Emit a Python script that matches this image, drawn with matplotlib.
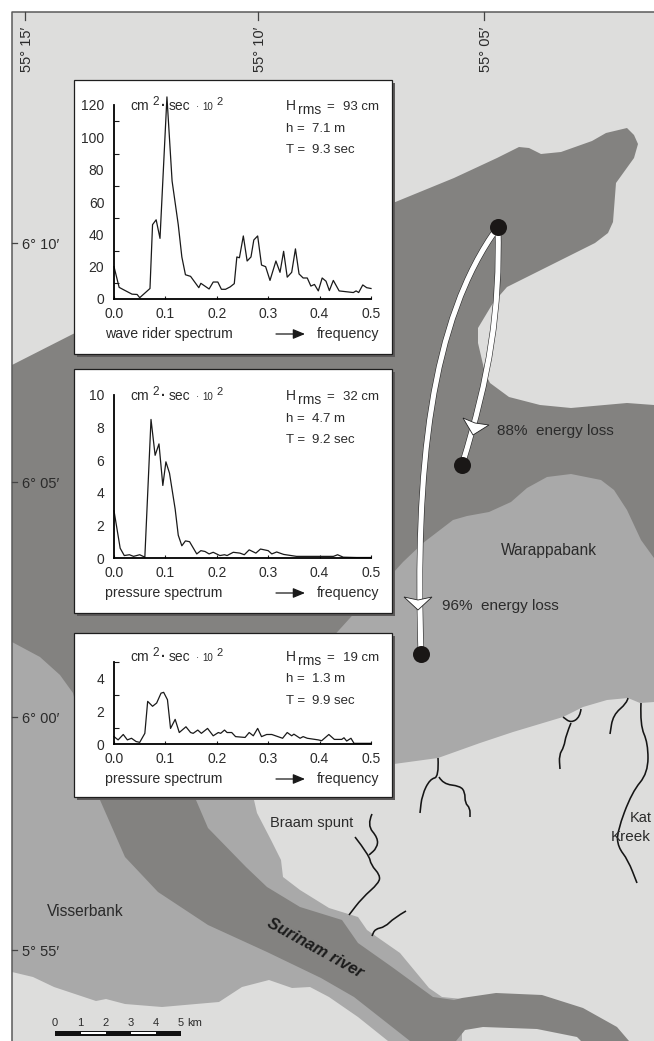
import matplotlib
matplotlib.use("Agg")
import matplotlib.pyplot as plt
from matplotlib.patches import Polygon, Rectangle, PathPatch
from matplotlib.path import Path

plt.rcParams['font.family'] = ['Liberation Sans', 'DejaVu Sans']

W, H = 654, 1041

# spectra
f1 = [0, .01, .02, .035, .045, .05, .07, .075, .082, .0895, .103, .113, .125, .132, .139, .149, .165, .169, .185, .193,
      .202, .209, .217, .226, .234, .239, .244, .2516, .259, .2665, .272, .2795, .287, .295, .3035, .315, .323, .33, .337,
      .3457, .353, .36, .368, .376, .383, .39, .3975, .405, .4125, .419, .4267, .438, .4656, .471, .476, .484, .4916, .5]
v1 = [20, 7.2, 5.5, 3, 2.8, .8, 6.5, 46, 49, 37.5, 125, 73, 46, 26, 15, 14, 7, 9.7, 6.2, 10.5,
      10.5, 6, 6, 7.5, 9.5, 26, 25.5, 39, 23.5, 26, 36.5, 39, 21, 20, 11.5, 23.5, 16.5, 29.5, 13.5,
      16.5, 31, 15.5, 13, 13, 8, 9, 5, 13, 11, 5.2, 11.5, 5, 4, 5, 4, 8.7, 7, 6.5]

f2 = [0, .012, .02, .03, .038, .05, .06, .072, .08, .0875, .095, .101, .108, .119, .125, .132, .139, .147, .161, .169,
      .177, .185, .193, .206, .215, .22, .232, .245, .2535, .263, .276, .285, .3, .307, .3165, .33, .355, .3975, .427,
      .435, .446, .472, .5]
v2 = [2.9, .6, .15, .2, .1, .2, .05, 8.5, 6.3, 7, 4.45, 5.9, 5.2, 3, 1.4, .75, 1.05, 1, .25, .45,
      .4, .25, .35, .15, .2, .15, .35, .3, .2, .5, .3, .55, .45, .25, .37, .22, .1, .1, .1,
      .2, .05, .03, .03]

f3 = [0, .008, .018, .026, .034, .043, .05, .06, .0655, .075, .083, .0915, .0966, .104, .11, .119, .127, .14, .149, .154,
      .163, .17, .182, .193, .203, .2075, .215, .22, .229, .2365, .255, .263, .271, .2795, .287, .297, .307, .328, .337,
      .3457, .35, .362, .368, .376, .3975, .404, .418, .4287, .443, .4475, .4527, .461, .467, .5]
v3 = [.45, .25, .58, .25, .35, .15, .1, .65, 2.6, 2.3, 2.5, 3.1, 3.15, 2.7, .95, 1.5, .7, 1.05, .7, .65,
      .85, .65, .95, .5, .7, .65, .85, .7, .7, .45, .4, .7, .5, .95, .45, .58, .58, .35, .7,
      .5, .6, .35, .45, .35, .25, .2, .58, .28, .28, .38, .18, .35, .04, .04]

x_ticks = [0.0, 0.1, 0.2, 0.3, 0.4, 0.5]
heights = ['93 cm', '32 cm', '19 cm']
depths = ['7.1 m', '4.7 m', '1.3 m']
periods = ['9.3 sec', '9.2 sec', '9.9 sec']
captions = ['wave rider spectrum', 'pressure spectrum', 'pressure spectrum']

# map outlines, picture pixels
mid_shape = [(12, 440), (654, 440), (654, 702), (640, 703), (628, 698), (607, 700), (583, 707), (563, 717), (513, 732),
             (480, 743), (438, 758), (394, 764), (300, 780), (252, 795), (254, 800), (257, 813), (271, 840), (281, 860),
             (283, 877), (300, 890), (329, 908), (358, 917), (367, 930), (400, 953), (429, 988), (442, 997), (462, 999),
             (462, 1041), (388, 1041), (358, 1017), (329, 997), (310, 987), (292, 988), (269, 980), (242, 987), (219, 1002),
             (196, 1004), (162, 1007), (125, 1004), (106, 999), (96, 1001), (54, 987), (33, 977), (12, 972)]
dark_shape = [(12, 365), (73, 334), (454, 178), (497, 158), (519, 147), (529, 148), (541, 154), (561, 152), (592, 141),
              (606, 133), (627, 128), (634, 135), (638, 144), (634, 158), (616, 183), (613, 222), (608, 233), (595, 243),
              (507, 287), (493, 303), (478, 328), (478, 343), (485, 373), (490, 383), (509, 397), (540, 405), (571, 408),
              (627, 403), (654, 405), (654, 558), (641, 540), (627, 510), (614, 490), (601, 480), (571, 474), (547, 477),
              (527, 488), (511, 502), (489, 512), (467, 516), (453, 520), (423, 543), (403, 562), (393, 573), (360, 607),
              (330, 640), (200, 760), (196, 800), (208, 828), (246, 867), (267, 887), (300, 907), (342, 920), (358, 943),
              (392, 967), (433, 997), (454, 1000), (462, 998), (496, 993), (542, 995), (583, 1008), (617, 1027), (629, 1041),
              (581, 1041), (577, 1037), (537, 1029), (483, 1027), (465, 1030), (456, 1041), (410, 1041), (354, 997),
              (321, 978), (267, 952), (208, 925), (158, 892), (125, 857), (100, 800), (85, 740), (73, 693), (60, 675),
              (40, 657), (12, 642)]
creeks = [
    [(372, 814), (367, 825), (378, 838), (377, 848), (369, 855)],
    [(355, 837), (369, 855), (371, 865), (380, 875), (379, 883), (362, 898), (349, 915)],
    [(406, 911), (394, 918), (385, 927), (375, 929), (372, 936)],
    [(438, 758), (439, 777), (430, 779), (422, 795), (420, 813)],
    [(439, 777), (443, 784), (460, 786), (465, 792), (465, 803), (470, 808), (470, 817)],
    [(581, 709), (580, 717), (571, 723), (563, 717)],
    [(571, 723), (566, 735), (564, 747), (559, 755), (560, 769)],
    [(628, 698), (627, 703), (613, 715), (610, 734)],
    [(641, 703), (640, 725), (648, 743), (648, 773), (632, 792), (617, 832), (618, 847), (628, 860), (637, 883)],
]
# start, two control points, end
route_a = [(498, 227), (500, 310), (490, 375), (462, 465)]
route_b = [(498, 227), (430, 320), (415, 470), (421, 654)]

fig = plt.figure(figsize=(W / 100, H / 100), dpi=100, facecolor='white')
ax = fig.add_axes([0, 0, 1, 1])
ax.set_xlim(0, W)
ax.set_ylim(H, 0)
ax.axis('off')

TXT = '#2b2b2b'
ax.add_patch(Rectangle((12, 12), W - 12, H - 12, fc='#dddddc', ec='none', zorder=0))
ax.add_patch(Polygon(mid_shape, fc='#a9a9a9', ec='none', zorder=1))
ax.add_patch(Polygon(dark_shape, fc='#838280', ec='none', zorder=2))
ax.plot([12, 12, W], [H, 12, 12], color='#5a5a5a', lw=1.1, zorder=3)


def smooth_path(pts):
    # quadratic pieces through the midpoints, so creeks do not look angular
    verts = [pts[0]]
    codes = [Path.MOVETO]
    for a, b in zip(pts[1:-1], pts[2:]):
        verts += [a, ((a[0] + b[0]) / 2, (a[1] + b[1]) / 2)]
        codes += [Path.CURVE3, Path.CURVE3]
    verts.append(pts[-1])
    codes.append(Path.LINETO)
    return Path(verts, codes)


for c in creeks:
    ax.add_patch(PathPatch(smooth_path(c), fc='none', ec='#151515', lw=1.15, zorder=3))


def label(x, y, s, size=9.0, **kw):
    kw.setdefault('color', TXT)
    kw.setdefault('va', 'baseline')
    kw.setdefault('zorder', 8)
    ax.text(x, y, s, fontsize=size, **kw)


# graticule
for x, s in zip([25, 258, 484], ["55° 15′", "55° 10′", "55° 05′"]):
    ax.plot([x, x], [12, 20], color='#444444', lw=0.9, zorder=3)
    label(x + 6, 72, s, size=10.5, rotation=90, ha='left', rotation_mode='anchor')
for y, s in zip([243, 482, 717, 950], ["6° 10′", "6° 05′", "6° 00′", "5° 55′"]):
    ax.plot([12, 17], [y, y], color='#444444', lw=0.9, zorder=3)
    label(22, y + 6, s, size=10.5)

# routes
codes = [Path.MOVETO, Path.CURVE4, Path.CURVE4, Path.CURVE4]
for r in (route_a, route_b):
    ax.add_patch(PathPatch(Path(r, codes), fc='none', ec='#222222', lw=4.5, zorder=4))
    ax.add_patch(PathPatch(Path(r, codes), fc='none', ec='white', lw=3.7, zorder=5))
ax.add_patch(Polygon([(463, 418), (475, 423), (489, 425), (473, 435)], fc='white', ec='#222222', lw=0.6, zorder=6))
ax.add_patch(Polygon([(404, 597), (418, 600), (432, 597), (418, 610)], fc='white', ec='#222222', lw=0.6, zorder=6))
ax.scatter([498, 462, 421], [227, 465, 654], s=150, color='#1a1716', zorder=7, linewidths=0)

label(497, 435, "88%  energy loss", size=11)
label(442, 610, "96%  energy loss", size=11)
label(501, 555, "Warappabank", size=11.2)
label(270, 827, "Braam spunt", size=10.5)
label(47, 916, "Visserbank", size=11.2)
label(630, 822, "Kat", size=10.5)
label(611, 841, "Kreek", size=11)
label(315.5, 948, "Surinam river", size=12, fontweight='bold', fontstyle='italic', rotation=-29,
      ha='center', va='center', rotation_mode='anchor', color='#1c1c1c')

# scale bar
bar_edges = [55, 80.5, 105.5, 130.5, 155.5, 181]
for i in range(5):
    ax.add_patch(Rectangle((bar_edges[i], 1031), bar_edges[i + 1] - bar_edges[i], 4.5, fc='#111111', ec='none', zorder=4))
    if i % 2:
        ax.add_patch(Rectangle((bar_edges[i], 1031.5), bar_edges[i + 1] - bar_edges[i], 2, fc='white', ec='none', zorder=5))
for x, s in zip(bar_edges, ['0', '1', '2', '3', '4', '5']):
    label(x, 1026, s, size=8, ha='center')
label(187, 1026, 'km', size=8)

# inset panels: box left, top, right, bottom and axis y pixel of zero / top
panels = [
    dict(box=(74, 80, 392, 354), y0=299, ytop=105, ymax=120, major=20, small=[10, 30, 50, 70, 90, 110, 120], base=110, f=f1, v=v1),
    dict(box=(74, 369, 392, 613), y0=558, ytop=395, ymax=10, major=2, small=[10], base=400, f=f2, v=v2),
    dict(box=(74, 633, 392, 797), y0=744, ytop=662, ymax=5, major=2, small=[1, 3, 5], base=661, f=f3, v=v3),
]
X0, X1 = 114, 371

for i, p in enumerate(panels):
    l, t, r, b = p['box']
    ax.add_patch(Rectangle((l + 3, t + 3), r - l, b - t, fc='#5c5a5a', ec='none', zorder=6))
    ax.add_patch(Rectangle((l, t), r - l, b - t, fc='white', ec='#1e1e1e', lw=0.9, zorder=7))

    iax = fig.add_axes([X0 / W, 1 - p['y0'] / H, (X1 - X0) / W, (p['y0'] - p['ytop']) / H], zorder=5)
    iax.patch.set_alpha(0)
    iax.plot(p['f'], p['v'], color='#1a1a1a', lw=0.9, clip_on=False)
    iax.set_xlim(0, 0.5)
    iax.set_ylim(0, p['ymax'])
    iax.spines['top'].set_visible(False)
    iax.spines['right'].set_visible(False)
    iax.spines['left'].set_linewidth(1.3)
    iax.spines['bottom'].set_linewidth(1.3)
    iax.set_xticks(x_ticks)
    iax.set_xticklabels([f"{t_:.1f}" for t_ in x_ticks])
    iax.set_yticks(list(range(0, p['ymax'] + 1, p['major'])))
    iax.set_yticks(p['small'], minor=True)
    iax.tick_params(axis='both', which='both', direction='in', colors='#1a1a1a', labelcolor=TXT, labelsize=10,
                    width=0.8)
    iax.tick_params(axis='y', which='major', length=0, pad=7)
    iax.tick_params(axis='y', which='minor', length=3.5)
    iax.tick_params(axis='x', which='major', length=2.5, pad=6)

    base = p['base']
    # unit label
    label(130, base, "cm", size=10)
    label(152, base - 5, "2", size=8.5)
    label(161, base, "·", size=10, fontweight='bold')
    label(169, base, "sec", size=10)
    label(196, base, "·", size=7)
    label(202, base, "10", size=7)
    label(216, base - 5, "2", size=8)

    label(286, base, "H", size=10)
    label(298, base + 4, "rms", size=10)
    label(326, base, "=", size=9.5)
    label(343, base, heights[i], size=9.5)
    label(286, base + 21.5, "h =", size=9.5)
    label(312, base + 21.5, depths[i], size=9.5)
    label(286, base + 43, "T =", size=9.5)
    label(312, base + 43, periods[i], size=9.5)

    cy = p['y0'] + 39
    label(105, cy, captions[i], size=10.2)
    label(379, cy, "frequency", size=10.2, ha='right')
    ax.annotate('', xy=(305, cy - 4), xytext=(276, cy - 4), zorder=8,
                arrowprops=dict(arrowstyle='-|>,head_width=0.3,head_length=0.72', color='#1a1a1a', lw=0.9,
                                shrinkA=0, shrinkB=0))

fig.savefig('out.png', dpi=100)
